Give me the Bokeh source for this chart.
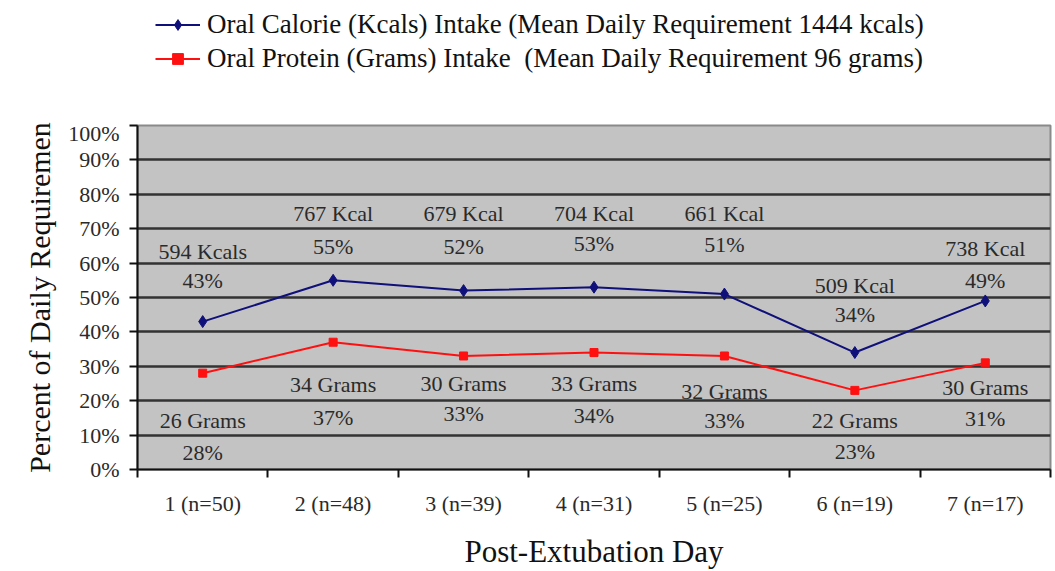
from bokeh.plotting import figure
from bokeh.layouts import column
from bokeh.models import (Range1d, FixedTicker, PrintfTickFormatter, Legend, LegendItem,
                          ColumnDataSource)
from bokeh.core.properties import value
from bokeh.embed import file_html
from bokeh.resources import INLINE

# ---- data ----
day_labels = ["1 (n=50)", "2 (n=48)", "3 (n=39)", "4 (n=31)", "5 (n=25)", "6 (n=19)", "7 (n=17)"]
days = [1, 2, 3, 4, 5, 6, 7]
kcal_pct = [43, 55, 52, 53, 51, 34, 49]
protein_pct = [28, 37, 33, 34, 33, 23, 31]
kcal_text = ["594 Kcals", "767 Kcal", "679 Kcal", "704 Kcal", "661 Kcal", "509 Kcal", "738 Kcal"]
protein_text = ["26 Grams", "34 Grams", "30 Grams", "33 Grams", "32 Grams", "22 Grams", "30 Grams"]
kcal_pct_text = ["43%", "55%", "52%", "53%", "51%", "34%", "49%"]
protein_pct_text = ["28%", "37%", "33%", "34%", "33%", "23%", "31%"]
# label anchor heights (percent units) as placed in the original
kcal_text_y = [63.5, 74.5, 74.5, 74.5, 74.5, 53.5, 64.3]
kcal_pct_y = [55.0, 64.8, 64.8, 65.8, 65.5, 45.0, 55.0]
protein_text_y = [14.3, 24.6, 24.9, 24.9, 22.8, 14.3, 23.7]
protein_pct_y = [5.0, 15.2, 16.4, 15.8, 14.3, 5.3, 14.9]

legend_kcal = "Oral Calorie (Kcals) Intake (Mean Daily Requirement 1444 kcals)"
legend_protein = "Oral Protein (Grams) Intake  (Mean Daily Requirement 96 grams)"

FONT = "Liberation Serif"
BLUE = "#10107a"
RED = "#ff1010"
TXT = "#2a2a2a"

# ---------- legend strip (series drawn off-range, only their legend swatches show) ----------
lg = figure(width=1052, height=120, output_backend="svg", toolbar_location=None,
            x_axis_type=None, y_axis_type=None, min_border=0,
            x_range=Range1d(100, 101), y_range=Range1d(100, 101))
lg.outline_line_color = None
lg.xgrid.visible = False
lg.ygrid.visible = False
lg.background_fill_color = "white"
ll1 = lg.line(days, kcal_pct, line_color=BLUE, line_width=2)
ls1 = lg.scatter(days, kcal_pct, marker="diamond", size=10, fill_color=BLUE, line_color=BLUE)
ll2 = lg.line(days, protein_pct, line_color=RED, line_width=2)
ls2 = lg.scatter(days, protein_pct, marker="square", size=7, fill_color=RED, line_color=RED)
legend = Legend(items=[LegendItem(label=legend_kcal, renderers=[ll1, ls1]),
                       LegendItem(label=legend_protein, renderers=[ll2, ls2])],
                location=(18, 46), orientation="vertical")
legend.background_fill_alpha = 0
legend.border_line_alpha = 0
legend.label_text_font = FONT
legend.label_text_font_size = "27px"
legend.label_text_color = "#111111"
legend.glyph_width = 45
legend.glyph_height = 27
legend.label_height = 27
legend.label_standoff = 7
legend.spacing = 3
legend.padding = 0
legend.margin = 0
lg.add_layout(legend, "center")

# ---------- main chart ----------
p = figure(width=1052, height=451, output_backend="svg", toolbar_location=None,
           x_range=Range1d(0.5, 7.5), y_range=Range1d(0, 100),
           min_border_left=137, min_border_right=2, min_border_top=5, min_border_bottom=101)

p.background_fill_color = "#c3c3c3"
p.border_fill_color = "white"
p.outline_line_color = "#8a8a8a"
p.outline_line_width = 2

# grid
p.xgrid.visible = False
p.ygrid.ticker = FixedTicker(ticks=[10, 20, 30, 40, 50, 60, 70, 80, 90])
p.ygrid.grid_line_color = "#333333"
p.ygrid.grid_line_width = 2.5

# y axis
p.yaxis.ticker = FixedTicker(ticks=list(range(0, 101, 10)), minor_ticks=[])
p.yaxis.formatter = PrintfTickFormatter(format="%d%%")
p.yaxis.axis_label = "Percent of Daily Requiremen"
p.yaxis.axis_label_text_font = FONT
p.yaxis.axis_label_text_font_style = "normal"
p.yaxis.axis_label_text_font_size = "30px"
p.yaxis.axis_label_text_color = "#111111"
p.yaxis.axis_label_standoff = 9
p.yaxis.major_label_text_font = FONT
p.yaxis.major_label_text_font_size = "22px"
p.yaxis.major_label_text_color = TXT
p.yaxis.major_tick_out = 8
p.yaxis.major_tick_in = 0
p.yaxis.major_label_standoff = 10
p.yaxis.axis_line_color = "#111111"
p.yaxis.axis_line_width = 2
p.yaxis.major_tick_line_color = "#111111"
p.yaxis.major_tick_line_width = 2

# x axis
p.xaxis.ticker = FixedTicker(ticks=days, minor_ticks=[0.5, 1.5, 2.5, 3.5, 4.5, 5.5, 6.5, 7.5])
p.xaxis.major_label_overrides = {d: lab for d, lab in zip(days, day_labels)}
p.xaxis.major_tick_out = 0
p.xaxis.major_tick_in = 0
p.xaxis.minor_tick_out = 8
p.xaxis.minor_tick_in = 0
p.xaxis.minor_tick_line_color = "#111111"
p.xaxis.minor_tick_line_width = 2
p.xaxis.major_label_standoff = 13
p.xaxis.major_label_text_font = FONT
p.xaxis.major_label_text_font_size = "22px"
p.xaxis.major_label_text_color = TXT
p.xaxis.axis_line_color = "#111111"
p.xaxis.axis_line_width = 2
p.xaxis.axis_label = "Post-Extubation Day"
p.xaxis.axis_label_text_font = FONT
p.xaxis.axis_label_text_font_style = "normal"
p.xaxis.axis_label_text_font_size = "31px"
p.xaxis.axis_label_text_color = "#111111"
p.xaxis.axis_label_standoff = 15

# series
p.line(days, kcal_pct, line_color=BLUE, line_width=2)
p.scatter(days, kcal_pct, marker="diamond", size=12, fill_color=BLUE, line_color=BLUE)
p.line(days, protein_pct, line_color=RED, line_width=2)
p.scatter(days, protein_pct, marker="square", size=8, fill_color=RED, line_color=RED)

# data labels
for xs, ys, txt in [(days, kcal_text_y, kcal_text), (days, kcal_pct_y, kcal_pct_text),
                    (days, protein_text_y, protein_text), (days, protein_pct_y, protein_pct_text)]:
    src = ColumnDataSource(dict(x=xs, y=ys, t=txt))
    p.text(x="x", y="y", text="t", source=src, text_font=value(FONT), text_font_size="22px",
           text_color=TXT, text_align="center", text_baseline="middle")

open("out.html", "w").write(file_html(column(lg, p, spacing=0), INLINE))
